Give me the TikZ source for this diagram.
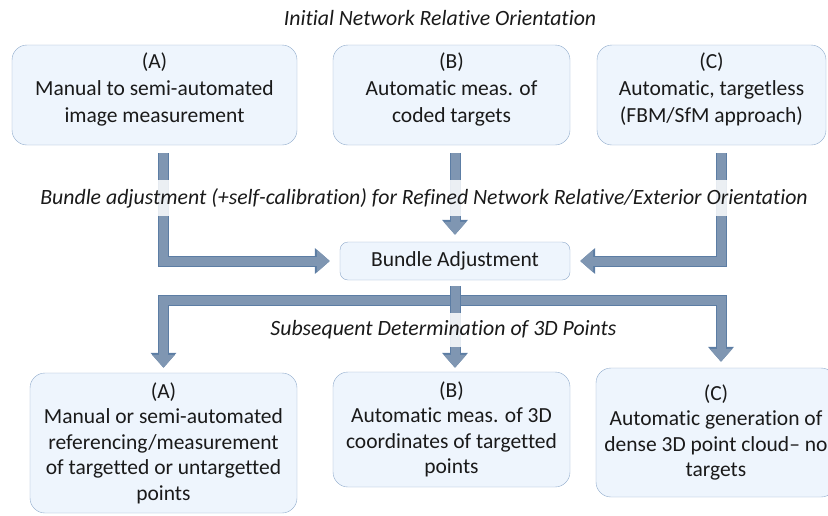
\documentclass[tikz,border=0pt]{standalone}
\usepackage{fontspec}
\setmainfont{Carlito}[Ligatures=NoCommon]
\usetikzlibrary{arrows.meta}
\definecolor{boxfill}{HTML}{EEF5FD}
\definecolor{boxline}{HTML}{8FAACB}
\definecolor{pipefill}{HTML}{7F96B2}
\definecolor{pipeline}{HTML}{5C7DA4}
\definecolor{ink}{HTML}{1A1A1A}
\newcommand\liftup{\\[-12pt]\mbox{}}
\begin{document}
\begin{tikzpicture}[x=1pt,y=-1pt,
  stage/.style={draw=boxline, fill=boxfill, rounded corners=15pt, align=center, inner sep=2pt,
    font=\fontsize{21.5}{25.5}\selectfont, text=ink},
  source/.style={stage, minimum height=100pt, font=\fontsize{21.5}{27}\selectfont},
  phase/.style={font=\fontsize{21.8}{24}\selectfont\itshape, text=ink, fill=white,
    fill opacity=0.85, text opacity=1, inner xsep=2pt, inner ysep=8pt},
  pipe/.style={draw=pipefill, line width=9pt, line join=miter, -{Triangle[width=22pt,length=13pt]},
    preaction={draw=pipeline, line width=11pt, -{Triangle[width=25pt,length=15pt]}}}]
\useasboundingbox (0,0) rectangle (828,515);
% input variants
\node[source, minimum width=285pt] (topA) at (154.5,95) {(A)\\Manual to semi-automated\\image measurement\liftup};
\node[source, minimum width=237pt] (topB) at (451.5,95) {(B)\\Automatic meas. of\\coded targets\liftup};
\node[source, minimum width=229pt] (topC) at (711.5,95) {(C)\\Automatic, targetless\\(FBM/SfM approach)\liftup};
\node[stage, rounded corners=8pt, minimum width=230pt, minimum height=38pt] (bundle) at (455,261) {Bundle Adjustment};
% output variants
\node[stage, minimum width=267pt, minimum height=140pt] (botA) at (163.5,443) {(A)\\Manual or semi-automated\\referencing/measurement\\of targetted or untargetted\\points};
\node[stage, minimum width=237pt, minimum height=115pt] (botB) at (451.5,429.5) {(B)\\Automatic meas. of 3D\\coordinates of targetted\\points};
\node[stage, minimum width=240pt, minimum height=129pt] (botC) at (716,432.5) {(C)\\Automatic generation of\\dense 3D point cloud-- no\\targets};
\coordinate (fork) at (455,300);
% arrows
\draw[pipe] ([xshift=8.5pt,yshift=-8pt]topA.south) |- ([xshift=-10pt]bundle.west);
\draw[pipe] ([xshift=3.5pt,yshift=-8pt]topB.south) -- ([yshift=7pt]bundle.north);
\draw[pipe] ([xshift=9.5pt,yshift=-8pt]topC.south) |- ([xshift=10pt]bundle.east);
\draw[pipe] (fork) -| ([yshift=5pt]botA.north);
\draw[pipe] (fork) -| ([xshift=5pt,yshift=6pt]botC.north);
\draw[pipe] ([yshift=-6pt]bundle.south) -- ([xshift=3.5pt,yshift=4pt]botB.north);
% stage captions
\node[phase] (initial) at (440,18) {Initial Network Relative Orientation};
\node[phase] (refine) at (424,198) {Bundle adjustment (+self-calibration) for Refined Network Relative/Exterior Orientation};
\node[phase] (points) at (443.5,330) {Subsequent Determination of 3D Points};
\end{tikzpicture}
\end{document}
